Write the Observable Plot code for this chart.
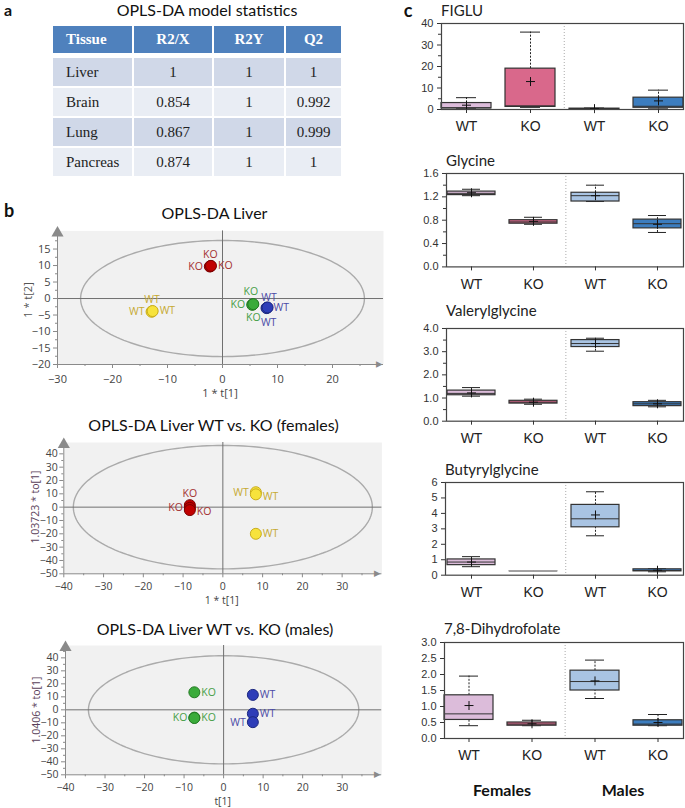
<!DOCTYPE html>
<html><head><meta charset="utf-8">
<script src="https://cdn.jsdelivr.net/npm/d3@7"></script>
<script src="https://cdn.jsdelivr.net/npm/@observablehq/plot@0.6"></script>
<style>
body{margin:0;background:#fff;}
#page{position:relative;width:685px;height:808px;overflow:hidden;font-family:Lato,"Open Sans",sans-serif;color:#111;}
.abs{position:absolute;white-space:nowrap;line-height:1.1;}
.c{transform:translate(-50%,-50%);}
.lm{transform:translate(0,-50%);}
table.stats{position:absolute;left:53px;top:26px;border-collapse:collapse;table-layout:fixed;font-family:"Liberation Serif","Times New Roman",serif;font-size:15px;color:#222;}
table.stats th{background:#4f81bd;color:#fff;font-weight:bold;height:27px;padding:0;border-right:2px solid #fff;border-bottom:5px solid #fff;}
table.stats td{height:28px;padding:0;text-align:center;border-right:2px solid #fff;border-bottom:2px solid #fff;}
table.stats tr.odd td{background:#d0d8e8;}
table.stats tr.even td{background:#e9edf4;}
table.stats .first{text-align:left;padding-left:13px;}
svg{position:absolute;}
</style></head><body><div id="page"></div>
<script>
// ---------- Panel a: table values ----------
const tableHeader = ["Tissue", "R2/X", "R2Y", "Q2"];
const tissues = ["Liver", "Brain", "Lung", "Pancreas"];
const r2x = ["1", "0.854", "0.867", "0.874"];
const r2y = ["1", "1", "1", "1"];
const q2 = ["1", "0.992", "0.999", "1"];

// ---------- Panel b: score plot data ----------
const liverGroup = ["KOf","KOf","KOf","WTf","WTf","WTf","KOm","KOm","KOm","WTm","WTm","WTm"];
const liverLabel = ["KO","KO","KO","WT","WT","WT","KO","KO","KO","WT","WT","WT"];
const liverT1 = [-2.2,-2.3,-2.1,-12.8,-12.9,-12.7,5.5,5.4,5.6,8.1,8.0,8.2];
const liverT2 = [9.8,9.7,9.9,-3.9,-4.0,-3.8,-1.8,-1.9,-1.7,-2.8,-2.9,-2.7];

const femGroup = ["KOf","KOf","KOf","WTf","WTf","WTf"];
const femLabel = ["KO","KO","KO","WT","WT","WT"];
const femT1 = [-8.3,-8.3,-8.3,8.3,8.3,8.3];
const femTo1 = [1.5,-0.5,-2.2,11.2,9.6,-20];

const maleGroup = ["KOm","KOm","KOm","WTm","WTm","WTm"];
const maleLabel = ["KO","KO","KO","WT","WT","WT"];
const maleT1 = [-7.4,-7.4,-7.4,7.4,7.4,7.4];
const maleTo1 = [13.5,-6.0,-6.3,11.5,-3.0,-9.5];

// ---------- Panel c: box statistics [min, q1, median, q3, max, mean] per group ----------
const boxGroups = ["F-WT","F-KO","M-WT","M-KO"];
const boxTickLabels = ["WT","KO","WT","KO"];
const sexLabels = ["Females","Males"];
const figluStats = [[0.3,0.5,0.8,3.0,5.5,2.0],[1.0,1.2,1.7,19,36,13],[0.2,0.25,0.3,0.4,0.7,0.4],[0.3,0.8,1.5,5.5,9,4.0]];
const glycineStats = [[1.22,1.23,1.26,1.29,1.33,1.27],[0.73,0.74,0.77,0.80,0.85,0.78],[1.12,1.12,1.22,1.27,1.40,1.22],[0.59,0.66,0.74,0.81,0.88,0.73]];
const valerylStats = [[1.08,1.12,1.20,1.32,1.45,1.22],[0.73,0.76,0.82,0.88,0.95,0.82],[3.02,3.20,3.35,3.50,3.58,3.35],[0.62,0.65,0.75,0.82,0.90,0.75]];
const butyrylStats = [[0.55,0.65,0.85,1.02,1.20,0.85],[0.22,0.245,0.25,0.255,0.28,0.25],[2.55,3.10,3.65,4.55,5.40,3.90],[0.22,0.25,0.30,0.38,0.42,0.32]];
const dhfStats = [[0.40,0.58,0.77,1.35,1.95,1.03],[0.40,0.40,0.45,0.50,0.57,0.46],[1.25,1.50,1.78,2.12,2.45,1.80],[0.40,0.40,0.45,0.57,0.75,0.50]];

const figluTicks = [0,10,20,30,40];
const glycineTicks = [0,0.4,0.8,1.2,1.6];
const valerylTicks = [0,1,2,3,4];
const butyrylTicks = [0,1,2,3,4,5,6];
const dhfTicks = [0,0.5,1,1.5,2,2.5,3];

// ---------- styles ----------
const groupFill = {KOf:"#c00000", WTf:"#f7e33c", KOm:"#3aab3a", WTm:"#2e3db8"};
const groupStroke = {KOf:"#7a0000", WTf:"#c9ad1c", KOm:"#237a23", WTm:"#1d2980"};
const groupText = {KOf:"#a33030", WTf:"#c6a932", KOm:"#469e46", WTm:"#4a4aa6"};
const boxFill = ["#dcbcda","#d9688b","#a9c4e3","#3c7dbf"];

const page = document.getElementById("page");
function addText(txt, x, y, style, cls) {
  const d = document.createElement("div");
  d.className = "abs " + (cls || "c");
  d.textContent = txt;
  d.style.left = x + "px"; d.style.top = y + "px";
  Object.assign(d.style, style || {});
  page.appendChild(d);
  return d;
}
function place(svg, left, top) {
  svg.style.left = left + "px"; svg.style.top = top + "px";
  page.appendChild(svg);
}

// ---------- Panel a ----------
addText("a", 8, 9.5, {fontWeight:"bold", fontSize:"16px", lineHeight:"1"});
addText("OPLS-DA model statistics", 207, 10, {fontSize:"16px", color:"#111"});
{
  const t = document.createElement("table");
  t.className = "stats";
  const widths = [80, 80, 72, 57];
  const cg = document.createElement("colgroup");
  widths.forEach(w => { const c = document.createElement("col"); c.style.width = w + "px"; cg.appendChild(c); });
  t.appendChild(cg);
  const hr = document.createElement("tr");
  tableHeader.forEach((h, i) => { const th = document.createElement("th"); th.textContent = h; if (i === 0) th.className = "first"; hr.appendChild(th); });
  t.appendChild(hr);
  tissues.forEach((ts, i) => {
    const tr = document.createElement("tr");
    tr.className = i % 2 === 0 ? "odd" : "even";
    [ts, r2x[i], r2y[i], q2[i]].forEach((v, j) => { const td = document.createElement("td"); td.textContent = v; if (j === 0) td.className = "first"; tr.appendChild(td); });
    t.appendChild(tr);
  });
  page.appendChild(t);
}

// ---------- Panel b ----------
const placeOffsets = {
  top: {dx: 0, dy: -12, anchor: "middle"},
  topleft: {dx: -2, dy: -13, anchor: "middle"},
  topright: {dx: 2, dy: -10, anchor: "middle"},
  bottom: {dx: 0, dy: 13, anchor: "middle"},
  bottomright: {dx: 1, dy: 15, anchor: "middle"},
  left: {dx: -7, dy: 0, anchor: "end"},
  right: {dx: 7, dy: 0, anchor: "start"},
  rightlow: {dx: 7, dy: 2, anchor: "start"}
};

function scatter(o) {
  const data = o.group.map((g, i) => ({g, label: o.label[i], x: o.xs[i], y: o.ys[i], place: o.places[i]}));
  const ell = d3.range(0, 361, 2).map(a => ({ex: o.ea * Math.cos(a * Math.PI / 180), ey: o.eb * Math.sin(a * Math.PI / 180)}));
  const textMarks = Object.keys(placeOffsets).map(p => {
    const off = placeOffsets[p];
    return Plot.text(data.filter(d => d.place === p), {
      x: "x", y: "y", text: "label", fill: d => groupText[d.g],
      dx: off.dx, dy: off.dy, textAnchor: off.anchor, fontSize: 10.5, fontFamily: "Open Sans"
    });
  });
  const svg = Plot.plot({
    width: 385, height: o.height,
    marginLeft: o.ml, marginRight: o.mr, marginTop: o.mt, marginBottom: o.mb,
    x: {domain: o.xDomain, label: null},
    y: {domain: o.yDomain, label: null},
    style: {background: "none", fontFamily: "'Open Sans', sans-serif", fontSize: o.fs + "px", color: "#444", overflow: "visible"},
    marks: [
      Plot.frame({fill: "#f1f1f1", stroke: null}),
      Plot.line(ell, {x: "ex", y: "ey", stroke: "#ababab", strokeWidth: 1.4}),
      Plot.ruleX([0], {stroke: "#707070"}),
      Plot.ruleY([0], {stroke: "#707070"}),
      Plot.ruleX([o.xDomain[0]], {stroke: "#8a8a8a"}),
      Plot.ruleY([o.yDomain[0]], {stroke: "#8a8a8a"}),
      Plot.dot([0], {x: () => o.xDomain[0], y: () => o.yDomain[1], symbol: "triangle", r: 4.5, fill: "#8a8a8a", dy: 2}),
      Plot.text([0], {x: () => o.xDomain[1], y: () => o.yDomain[0], text: () => "\u25B2", rotate: 90, fill: "#8a8a8a", fontSize: 11, dx: -4}),
      Plot.axisX({ticks: o.xTicks, tickSize: 4, tickPadding: o.xPad, stroke: "#8a8a8a", label: null}),
      Plot.axisX({ticks: o.xMinor, tickSize: 2, tickFormat: () => "", stroke: "#8a8a8a", label: null}),
      Plot.axisY({ticks: o.yTicks, tickSize: 4, tickPadding: o.yPad, stroke: "#8a8a8a", label: null}),
      Plot.axisY({ticks: o.yMinor, tickSize: 2, tickFormat: () => "", stroke: "#8a8a8a", label: null}),
      Plot.dot(data, {x: "x", y: "y", r: 5.5, fill: d => groupFill[d.g], stroke: d => groupStroke[d.g], strokeWidth: 1}),
      ...textMarks
    ]
  });
  place(svg, 0, o.top);
}

addText("b", 9, 211, {fontWeight:"bold", fontSize:"18px"});
addText("OPLS-DA Liver", 214.5, 213, {fontSize:"16px"});
scatter({
  group: liverGroup, label: liverLabel, xs: liverT1, ys: liverT2,
  places: ["top","left","right","top","left","right","topleft","left","bottom","topright","right","bottomright"],
  top: 222, height: 180, ml: 57, mr: 2, mt: 8.4, mb: 38,
  xDomain: [-30, 29.27], yDomain: [-20, 20.5],
  xTicks: [-30,-20,-10,0,10,20], xMinor: [-25,-15,-5,5,15,25],
  yTicks: [-20,-15,-10,-5,0,5,10,15], yMinor: [-17.5,-12.5,-7.5,-2.5,2.5,7.5,12.5,17.5],
  ea: 25.8, eb: 17.6, fs: 11, xPad: 7, yPad: 3
});
addText("1 * t[1]", 220, 393, {fontSize:"11px", fontFamily:"'Open Sans'", color:"#444"});
addText("1 * t[2]", 28, 300, {fontSize:"11px", fontFamily:"'Open Sans'", color:"#555", transform:"translate(-50%,-50%) rotate(-90deg)"});

addText("OPLS-DA Liver WT vs. KO (females)", 213.5, 425, {fontSize:"16px"});
scatter({
  group: femGroup, label: femLabel, xs: femT1, ys: femTo1,
  places: ["top","left","rightlow","left","rightlow","right"],
  top: 434, height: 172, ml: 63.3, mr: 3.6, mt: 8, mb: 32.7,
  xDomain: [-40, 40], yDomain: [-50, 48.5],
  xTicks: [-40,-30,-20,-10,0,10,20,30], xMinor: [-35,-25,-15,-5,5,15,25,35],
  yTicks: [-50,-40,-30,-20,-10,0,10,20,30,40], yMinor: [-45,-35,-25,-15,-5,5,15,25,35,45],
  ea: 37.6, eb: 46.3, fs: 10.5, xPad: 4.5, yPad: 2
});
addText("1 * t[1]", 221.7, 600.5, {fontSize:"10.5px", fontFamily:"'Open Sans'", color:"#444"});
addText("1.03723 * to[1]", 36, 507, {fontSize:"10.5px", fontFamily:"'Open Sans'", color:"#5a3f5a", transform:"translate(-50%,-50%) rotate(-90deg)"});

addText("OPLS-DA Liver WT vs. KO (males)", 215, 629, {fontSize:"16px"});
scatter({
  group: maleGroup, label: maleLabel, xs: maleT1, ys: maleTo1,
  places: ["right","left","right","right","right","left"],
  top: 637, height: 171, ml: 65, mr: 3.8, mt: 8, mb: 33.7,
  xDomain: [-40, 40], yDomain: [-50, 49.5],
  xTicks: [-40,-30,-20,-10,0,10,20,30], xMinor: [-35,-25,-15,-5,5,15,25,35],
  yTicks: [-50,-40,-30,-20,-10,0,10,20,30,40], yMinor: [-45,-35,-25,-15,-5,5,15,25,35,45],
  ea: 34.2, eb: 41.6, fs: 10.5, xPad: 5, yPad: 3
});
addText("t[1]", 222.7, 802, {fontSize:"10.5px", fontFamily:"'Open Sans'", color:"#444"});
addText("1.0406 * to[1]", 37, 710, {fontSize:"10.5px", fontFamily:"'Open Sans'", color:"#5a3f5a", transform:"translate(-50%,-50%) rotate(-90deg)"});

// ---------- Panel c ----------
function boxChart(o) {
  const rows = o.stats.map((s, i) => ({key: boxGroups[i], min: s[0], q1: s[1], med: s[2], q3: s[3], max: s[4], mean: s[5], fill: boxFill[i]}));
  const svgLeft = 375, width = 310;
  const ml = o.left - svgLeft, mr = 2, mt = 6, mb = 34;
  const step = (width - ml - mr) / boxGroups.length;
  const labelOf = Object.fromEntries(boxGroups.map((g, i) => [g, boxTickLabels[i]]));
  const span = o.yDomain[1] - o.yDomain[0];
  const flat = d => (d.q3 - d.q1) / span < 0.003;
  const svg = Plot.plot({
    width, height: o.bottom - o.top + mt + mb,
    marginLeft: ml, marginRight: mr, marginTop: mt, marginBottom: mb,
    x: {domain: boxGroups, paddingInner: 0.22, paddingOuter: 0, label: null},
    y: {domain: o.yDomain, label: null},
    style: {background: "none", fontFamily: "'Liberation Sans', Arial, sans-serif", fontSize: "11px", color: "#333", overflow: "visible"},
    marks: [
      Plot.ruleX([boxGroups[2]], {dx: -step / 2, stroke: "#aaa", strokeDasharray: "1,2"}),
      Plot.ruleX(rows, {x: "key", y1: "min", y2: "q1", stroke: d => flat(d) ? "#999" : "#222", strokeDasharray: "2,1.5"}),
      Plot.ruleX(rows, {x: "key", y1: "q3", y2: "max", stroke: d => flat(d) ? "#999" : "#222", strokeDasharray: "2,1.5"}),
      Plot.tickY(rows.filter(d => !flat(d)), {x: "key", y: "min", stroke: "#222", insetLeft: 15, insetRight: 15}),
      Plot.tickY(rows.filter(d => !flat(d)), {x: "key", y: "max", stroke: "#222", insetLeft: 15, insetRight: 15}),
      Plot.barY(rows, {x: "key", y1: "q1", y2: "q3", fill: d => d.fill, stroke: d => flat(d) ? "#999" : "#333", strokeWidth: 1.2}),
      Plot.tickY(rows, {x: "key", y: "med", stroke: d => flat(d) ? "#999" : "#333"}),
      Plot.dot(rows.filter(d => !flat(d)), {x: "key", y: "mean", symbol: "plus", r: 3, stroke: "#111", strokeWidth: 1}),
      Plot.frame({stroke: "#444", strokeWidth: 1.2}),
      Plot.axisY({ticks: o.ticks, tickFormat: o.fmt, tickSize: 4, tickPadding: 4, label: null}),
      ...(o.minor ? [Plot.axisY({ticks: o.minor, tickSize: 3, tickFormat: () => "", label: null})] : []),
      Plot.axisX({tickFormat: k => labelOf[k], tickSize: 4, tickPadding: 8, fontSize: 14, fill: "#222", label: null})
    ]
  });
  place(svg, svgLeft, o.top - mt);
  addText(o.title, o.left, o.titleY, {fontSize: "15px", color: "#222"}, "lm");
}

addText("c", 408, 11, {fontWeight:"bold", fontSize:"18px"});
const f1 = d3.format(".1f");
boxChart({title: "FIGLU", stats: figluStats, yDomain: [0, 40], ticks: figluTicks, minor: [5,15,25,35], fmt: d3.format("d"), left: 441, top: 23.3, bottom: 109.3, titleY: 10});
boxChart({title: "Glycine", stats: glycineStats, yDomain: [0, 1.6], ticks: glycineTicks, minor: [0.2,0.6,1.0,1.4], fmt: f1, left: 446, top: 173.3, bottom: 266.7, titleY: 160});
boxChart({title: "Valerylglycine", stats: valerylStats, yDomain: [0, 4], ticks: valerylTicks, minor: [0.5,1.5,2.5,3.5], fmt: f1, left: 446, top: 328.3, bottom: 421, titleY: 310});
boxChart({title: "Butyrylglycine", stats: butyrylStats, yDomain: [0, 6], ticks: butyrylTicks, minor: null, fmt: d3.format("d"), left: 445, top: 482.3, bottom: 575, titleY: 469});
boxChart({title: "7,8-Dihydrofolate", stats: dhfStats, yDomain: [0, 3], ticks: dhfTicks, minor: null, fmt: f1, left: 444, top: 642.3, bottom: 738.3, titleY: 628});

addText(sexLabels[0], 502, 790, {fontWeight: "bold", fontSize: "16px", color: "#111"});
addText(sexLabels[1], 623, 790, {fontWeight: "bold", fontSize: "16px", color: "#111"});
</script></body></html>
